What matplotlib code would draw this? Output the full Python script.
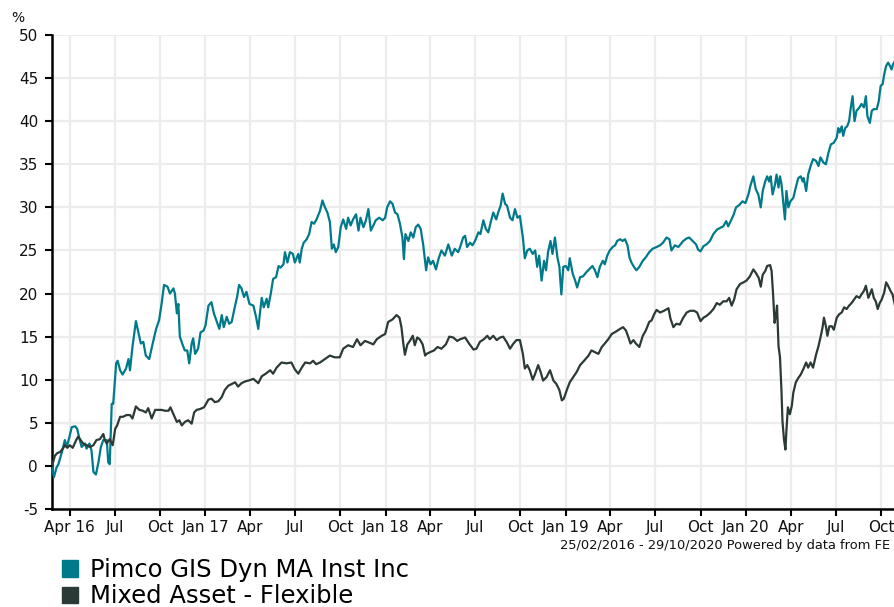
import datetime as dt
import matplotlib
matplotlib.use("Agg")
import matplotlib.pyplot as plt
from matplotlib.patches import Patch

# performance since 25/02/2016, x = days after start date, y = cumulative %
start_date = dt.date(2016, 2, 25)
end_date = dt.date(2020, 10, 29)

pimco_days = [0, 1, 4, 9, 13, 20, 26, 30, 35, 40, 47, 51, 55, 60, 67, 70, 76, 80, 84, 89, 94, 99, 104, 111, 114, 117,
              121, 124, 130, 133, 138, 143, 150, 155, 158, 163, 170, 175, 180, 185, 190, 197, 204, 211, 217, 222, 227,
              234, 239, 246, 249, 253, 256, 259, 265, 269, 274, 278, 283, 286, 290, 296, 301, 307, 311, 317, 323, 328,
              334, 339, 344, 348, 354, 359, 364, 371, 375, 379, 384, 389, 394, 400,
              408, 413, 418, 421, 425, 429, 435, 438, 443, 448, 454, 459, 463, 469, 472, 477, 482, 488, 492, 499, 502,
              506, 510, 516, 521, 526, 531, 536, 543, 548, 553, 558, 563, 567, 571, 575, 580, 585, 590, 596, 600, 605,
              610, 616, 621, 625, 631, 636, 641, 646, 651, 656, 663, 670, 675, 679, 685, 690, 695, 700, 705, 710, 713,
              716, 722, 727, 732, 737, 742, 747, 752, 758, 762, 767, 772, 778, 783, 789, 796, 803, 810, 816, 823,
              827, 833, 837, 841, 847, 852, 857, 864, 868, 874, 879, 884, 889, 894, 900, 904, 909, 913, 918, 922, 928,
              933, 938, 943, 948, 954, 958, 963, 968, 974, 979, 983, 987, 992, 997, 1001, 1005, 1010, 1014, 1019, 1024,
              1028, 1032, 1036, 1041, 1046, 1049, 1055, 1060, 1064, 1070, 1076, 1083, 1090, 1095, 1100, 1105, 1110,
              1116, 1120, 1125, 1130, 1136, 1141, 1145, 1151, 1156, 1161, 1166, 1170, 1174, 1179, 1184, 1190, 1197,
              1203, 1210, 1217, 1225, 1232, 1238, 1245, 1251, 1255, 1262, 1269,
              1279, 1286, 1291, 1298, 1305, 1309, 1314, 1320, 1326, 1333, 1340, 1347, 1353, 1360, 1366, 1370, 1375,
              1380, 1386, 1393, 1399, 1405, 1411, 1415, 1421, 1426, 1431, 1436, 1440, 1445, 1449, 1453, 1456, 1460,
              1465, 1468, 1472, 1475, 1478, 1482, 1485, 1488, 1492, 1496, 1502, 1507, 1512, 1517, 1521, 1523, 1528,
              1532, 1537, 1542, 1548, 1553, 1557, 1563, 1568, 1573, 1578, 1584, 1590, 1593, 1596, 1600, 1603, 1607,
              1611, 1615, 1618, 1622, 1626, 1630, 1636, 1640, 1645, 1649, 1652, 1657, 1661, 1665, 1671, 1675, 1679,
              1683, 1686, 1690, 1694, 1698, 1701, 1704, 1708]
pimco_vals = [0.0, -0.5, -1.3, -0.2, 0.2, 1.6, 3.0, 2.2, 3.3, 4.5, 4.6, 4.3, 3.3, 2.2, 2.6, 2.0, 2.6, 1.8, -0.7, -1.0,
              0.4, 2.2, 3.0, 3.0, 0.4, 0.2, 7.2, 7.2, 11.9, 12.2, 11.1, 10.6, 11.3, 12.4, 11.1, 13.8, 16.8, 15.5, 14.2,
              14.4, 12.8, 12.4, 14.2, 15.9, 16.9, 18.8, 21.0, 20.8, 20.0, 20.6, 20.0, 17.7, 18.8, 15.0, 14.0, 13.4,
              13.4, 11.9, 14.2, 14.8, 13.0, 13.6, 15.5, 15.7, 16.3, 18.6, 19.0, 17.7, 16.7, 15.9, 17.5, 16.1, 17.3,
              16.5, 16.7, 18.6, 19.6, 21.0, 20.6, 19.6, 20.2, 18.8,
              18.6, 17.4, 15.9, 17.6, 19.5, 18.4, 19.4, 18.4, 19.9, 21.7, 21.9, 23.2, 23.0, 23.4, 24.8, 23.6, 24.8,
              24.6, 23.6, 24.6, 23.6, 25.2, 25.9, 26.3, 26.9, 28.3, 28.1, 28.6, 29.6, 30.8, 30.0, 29.4, 28.3, 25.2,
              25.7, 24.8, 25.4, 27.7, 28.6, 27.5, 28.8, 27.9, 28.6, 29.2, 27.3, 28.8, 27.7, 28.5, 29.8, 27.3, 27.9,
              28.5, 28.8, 28.5, 28.8, 30.0, 30.7, 30.4, 29.4, 29.2, 28.1, 26.5, 24.0, 26.9, 26.1, 27.1, 26.5, 27.7,
              28.0, 27.5, 25.7, 22.7, 24.2, 23.4, 23.8, 22.8, 24.0, 25.0, 24.4, 25.7, 24.4, 25.2, 24.8,
              25.4, 26.5, 26.7, 25.4, 25.9, 25.6, 26.1, 27.1, 26.9, 28.5, 27.5, 27.1, 28.3, 29.4, 28.6, 29.4, 30.2,
              31.6, 30.4, 30.2, 28.8, 28.5, 29.8, 28.8, 29.0, 26.5, 24.1, 25.0, 25.2, 24.6, 25.0, 23.1, 24.4, 21.5,
              23.8, 22.7, 24.8, 26.1, 24.6, 26.5, 24.2, 23.1, 19.9, 23.1, 23.2, 22.7, 24.1, 22.3, 21.5, 20.7, 21.9,
              22.0, 22.5, 22.9, 23.2, 22.7, 21.9, 23.1, 23.8, 23.4, 24.4, 25.0, 25.4, 25.6, 26.1, 26.3, 26.1, 26.3,
              25.6, 24.2, 23.6, 23.1, 22.7, 23.1, 23.8, 24.2, 24.8, 25.2, 25.4, 25.6, 25.9, 26.5, 26.3, 25.0, 25.6,
              25.4,
              26.1, 26.4, 26.5, 26.1, 25.7, 25.1, 24.9, 25.5, 25.7, 26.1, 26.9, 27.4, 27.6, 27.8, 28.4, 27.8, 28.4,
              29.0, 30.0, 30.3, 30.7, 30.5, 31.5, 32.5, 33.6, 32.1, 31.5, 30.0, 31.9, 33.0, 33.6, 33.0, 33.6, 31.5,
              32.7, 33.8, 32.3, 33.6, 32.7, 30.3, 28.6, 31.9, 30.0, 30.7, 31.1, 32.3, 33.4, 33.6, 33.0, 33.4, 31.9,
              33.8, 34.8, 35.6, 35.4, 34.8, 35.8, 35.2, 35.0, 36.3, 37.3, 37.5, 38.1, 39.2, 38.7, 39.4, 38.3, 39.2,
              39.4, 40.0, 41.4, 42.9, 40.0, 41.2, 41.6, 42.0, 41.6, 42.9, 40.6, 39.8, 41.2, 41.4, 41.4, 42.3, 44.1,
              44.3, 45.4, 46.4, 46.8, 46.4, 46.0, 46.6, 47.0]

mixed_days = [0, 6, 11, 16, 22, 26, 31, 36, 42, 49, 53, 58, 63, 70, 77, 84, 90, 97, 104, 107, 111, 117, 123, 128, 132,
              138, 144, 151, 158, 163, 170, 177, 184, 190, 195, 202, 209, 215, 222, 229, 236, 240, 246, 253, 258, 263,
              269, 276, 283, 288, 293, 300, 308, 317, 323, 330, 337, 344, 350, 357, 364, 371, 377, 384, 391, 398,
              408, 418, 425, 433, 442, 448, 455, 465, 475, 485, 492, 499, 506, 513, 523, 529, 535, 543, 553, 563, 573,
              583, 590, 600, 610, 618, 625, 634, 643, 651, 658, 668, 675, 681, 690, 698, 704, 708, 712, 715, 720, 725,
              731, 735, 740, 745, 751, 756, 759, 766, 774, 781, 789, 798, 805, 813, 821,
              827, 837, 845, 854, 860, 867, 875, 882, 887, 894, 901, 908, 914, 921, 928, 935, 941, 948, 954, 958, 963,
              968, 974, 979, 985, 990, 995, 1002, 1009, 1016, 1022, 1028, 1033, 1037, 1043, 1049, 1056, 1063, 1070,
              1078, 1087, 1093, 1100, 1107, 1114, 1120, 1127, 1134, 1143, 1151, 1157, 1163, 1168, 1172, 1178, 1183,
              1190, 1197, 1203, 1210, 1215, 1220, 1225, 1232, 1240, 1249, 1253, 1259, 1265,
              1272, 1279, 1286, 1293, 1301, 1307, 1314, 1320, 1326, 1334, 1340, 1347, 1353, 1360, 1367, 1372, 1377,
              1382, 1387, 1394, 1401, 1407, 1414, 1421, 1426, 1432, 1436, 1440, 1445, 1449, 1455, 1458, 1461, 1464,
              1467, 1469, 1472, 1475, 1478, 1480, 1483, 1486, 1488, 1491, 1495, 1499, 1502, 1507, 1512, 1517, 1522,
              1528, 1532, 1537, 1542, 1548, 1553, 1557, 1561, 1564, 1568, 1571, 1575, 1580, 1584, 1590, 1595, 1600,
              1605, 1610, 1615, 1620, 1625, 1630, 1636, 1640, 1645, 1649, 1654, 1657, 1661, 1665, 1669, 1673, 1677,
              1681, 1686, 1690, 1694, 1699, 1703, 1708]
mixed_vals = [0.0, 1.2, 1.5, 1.6, 2.0, 2.4, 2.1, 2.4, 2.1, 3.0, 3.4, 3.0, 2.6, 2.4, 2.2, 2.4, 3.0, 3.1, 3.7, 3.0, 2.6,
              3.1, 2.4, 4.3, 4.7, 5.7, 5.7, 5.9, 5.9, 5.5, 6.9, 6.5, 6.4, 6.2, 6.7, 5.5, 6.5, 6.5, 6.5, 6.4, 6.4, 6.8,
              6.0, 5.1, 5.3, 4.7, 5.1, 5.3, 4.9, 6.2, 6.5, 6.6, 6.8, 7.7, 7.8, 7.4, 7.5, 8.0, 8.8, 9.3, 9.5, 9.7, 9.2,
              9.6, 9.8, 9.9,
              10.1, 9.6, 10.4, 10.7, 11.1, 10.7, 11.4, 12.0, 11.9, 12.0, 11.2, 10.7, 11.4, 12.0, 11.9, 12.2, 11.8,
              12.0, 12.4, 12.8, 12.6, 12.6, 13.6, 14.0, 13.8, 14.7, 14.0, 14.5, 14.3, 14.1, 14.7, 15.1, 15.3, 16.7,
              17.0, 17.5, 17.2, 16.1, 14.1, 12.9, 14.1, 14.5, 15.1, 14.0, 14.9, 14.7, 14.1, 12.8, 13.0, 13.2, 13.4,
              13.8, 13.6, 14.1, 15.0, 14.9, 14.5,
              14.7, 14.9, 14.2, 13.5, 13.6, 14.4, 14.7, 15.1, 14.7, 15.1, 14.6, 14.9, 15.0, 14.4, 13.6, 14.2, 14.6,
              14.6, 13.0, 11.3, 11.7, 11.1, 10.0, 10.7, 11.7, 10.9, 9.9, 10.3, 11.1, 9.9, 9.5, 8.8, 7.6, 7.8, 8.8, 9.7,
              10.3, 10.9, 11.7, 12.2, 12.8, 13.4, 13.2, 13.0, 13.8, 14.2, 14.7, 15.3, 15.6, 15.9, 16.1, 15.7, 14.9,
              14.2, 14.6, 14.2, 13.8, 15.1, 15.7, 16.7, 16.9, 17.6, 18.1, 17.8, 18.0, 18.3, 17.1, 16.1, 16.5,
              16.4, 17.2, 17.8, 18.0, 18.0, 17.8, 16.8, 17.2, 17.4, 17.8, 18.2, 18.9, 18.7, 19.1, 19.1, 19.5, 18.6,
              19.3, 20.5, 21.1, 21.3, 21.5, 22.0, 22.8, 22.4, 21.8, 20.8, 22.2, 22.6, 23.2, 23.3, 22.6, 19.9, 16.6,
              17.6, 18.6, 13.9, 12.6, 8.7, 5.2, 3.1, 1.9, 4.1, 6.8, 6.0, 7.0, 8.5, 9.7, 10.2, 10.6, 11.2, 12.0, 11.4,
              12.0, 11.4, 12.9, 13.9, 14.9, 16.0, 17.2, 16.2, 15.1, 16.2, 16.2, 15.8, 17.2, 17.6, 17.8, 18.4, 18.2,
              18.6, 18.9, 19.3, 19.7, 19.5, 19.9, 20.3, 20.9, 19.5, 19.9, 20.5, 19.5, 19.1, 18.2, 18.9, 19.3, 20.1,
              21.3, 20.9, 20.3, 19.9, 18.6]

series_names = ["Pimco GIS Dyn MA Inst Inc", "Mixed Asset - Flexible"]
series_colors = ["#007a8a", "#2c3a37"]

tick_dates = [dt.date(2016, 4, 1), dt.date(2016, 7, 1), dt.date(2016, 10, 1), dt.date(2017, 1, 1),
              dt.date(2017, 4, 1), dt.date(2017, 7, 1), dt.date(2017, 10, 1), dt.date(2018, 1, 1),
              dt.date(2018, 4, 1), dt.date(2018, 7, 1), dt.date(2018, 10, 1), dt.date(2019, 1, 1),
              dt.date(2019, 4, 1), dt.date(2019, 7, 1), dt.date(2019, 10, 1), dt.date(2020, 1, 1),
              dt.date(2020, 4, 1), dt.date(2020, 7, 1), dt.date(2020, 10, 1)]
tick_labels = ["Apr 16", "Jul", "Oct", "Jan 17", "Apr", "Jul", "Oct", "Jan 18", "Apr", "Jul", "Oct",
               "Jan 19", "Apr", "Jul", "Oct", "Jan 20", "Apr", "Jul", "Oct"]
y_ticks = [-5, 0, 5, 10, 15, 20, 25, 30, 35, 40, 45, 50]

footer = "25/02/2016 - 29/10/2020 Powered by data from FE"


def toDates(days):
    return [start_date + dt.timedelta(days=d) for d in days]


plt.rcParams["font.family"] = "DejaVu Sans"
fig = plt.figure(figsize=(8.95, 6.07), dpi=100)
ax = fig.add_axes([52 / 895, 1 - 509 / 607, 843 / 895, 474 / 607])

ax.plot(toDates(pimco_days), pimco_vals, color=series_colors[0], lw=1.6, zorder=3)
ax.plot(toDates(mixed_days), mixed_vals, color=series_colors[1], lw=1.6, zorder=3)

ax.set_xlim(start_date, end_date)
ax.set_ylim(-5, 50)
ax.set_yticks(y_ticks)
ax.set_yticklabels([str(v) for v in y_ticks])
ax.set_xticks(tick_dates)
ax.set_xticklabels(tick_labels)

ax.grid(True, color="#ececec", lw=1.6, zorder=0)
ax.set_axisbelow(True)
for side in ["top", "right"]:
    ax.spines[side].set_visible(False)
for side in ["left", "bottom"]:
    ax.spines[side].set_linewidth(1.8)
    ax.spines[side].set_color("black")
ax.tick_params(axis="both", length=5, width=1.5, color="black", labelsize=11, labelcolor="#111111")
ax.tick_params(axis="x", pad=3)
ax.tick_params(axis="y", pad=5)

fig.text(18 / 895, 1 - 18 / 607, "%", ha="center", va="center", fontsize=10, color="#111111")
fig.text(890 / 895, 1 - 545 / 607, footer, ha="right", va="center", fontsize=9.4, color="#111111")

# legend under the chart
handles = [Patch(facecolor=c, edgecolor=c) for c in series_colors]
fig.legend(handles, series_names, loc="upper left", bbox_to_anchor=(62 / 895, 1 - 558 / 607),
           frameon=False, fontsize=17.5, handlelength=0.66, handleheight=0.66, handletextpad=0.5,
           labelspacing=0.1, borderpad=0, borderaxespad=0)

fig.savefig("out.png", dpi=100)
